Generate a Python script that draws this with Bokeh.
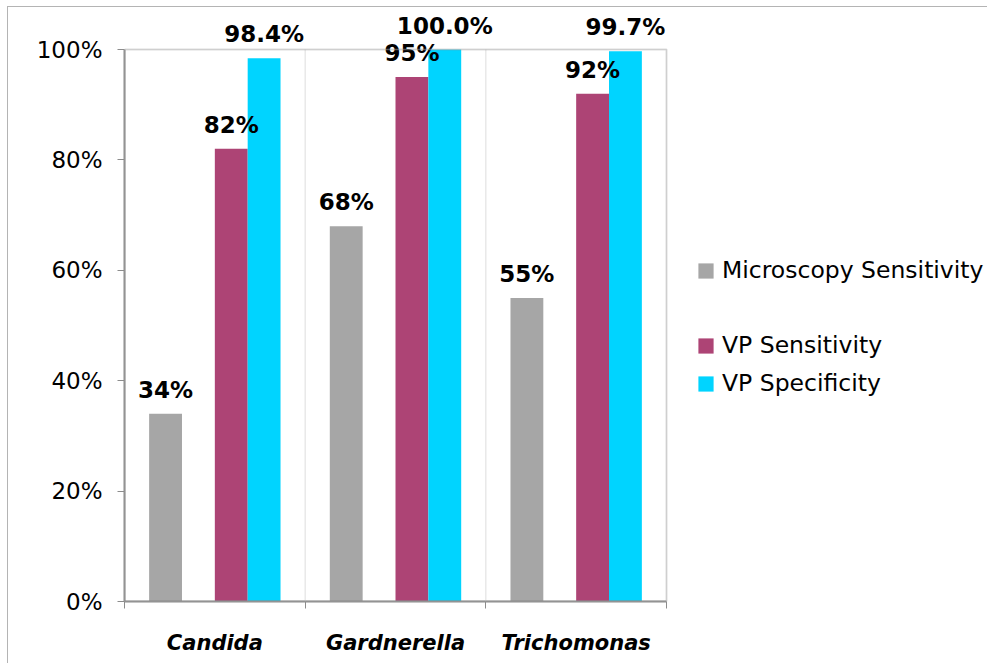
from bokeh.plotting import figure
from bokeh.models import (ColumnDataSource, FixedTicker, NumeralTickFormatter,
                          Legend, LegendItem, Range1d, BoxAnnotation)
from bokeh.transform import dodge
from bokeh.core.properties import value
from bokeh.embed import file_html
from bokeh.resources import INLINE

# ---- data ----
categories = ["Candida", "Gardnerella", "Trichomonas"]
microscopy_sensitivity = [0.34, 0.68, 0.55]
vp_sensitivity = [0.82, 0.95, 0.92]
vp_specificity = [0.984, 1.000, 0.997]
series_names = ["Microscopy Sensitivity", " ", "VP Sensitivity", "VP Specificity"]
y_ticks = [0, 0.2, 0.4, 0.6, 0.8, 1.0]

colors = ["#a6a6a6", "#ffffff", "#ad4475", "#00d4ff"]
frame_color = "#8c8c8c"
sep_color = "#c4c4c4"

n = len(categories)
xs = [i + 0.5 for i in range(n)]
src = ColumnDataSource(dict(
    x=xs,
    micro=microscopy_sensitivity,
    sens=vp_sensitivity,
    spec=vp_specificity,
    micro_lbl=[f"{v:.0%}" for v in microscopy_sensitivity],
    sens_lbl=[f"{v:.0%}" for v in vp_sensitivity],
    spec_lbl=[f"{v:.1%}" for v in vp_specificity],
))
empty_src = ColumnDataSource(dict(x=[], top=[]))

# layout: plot box 542 x 552 px; the frame is extended to the right and top
# so that the legend and the value labels above 100% are not clipped
W, H = 987, 663
left, top, bottom = 124, 10, 62
box_w, box_h = 542, 552
frame_w = W - left
frame_h = H - top - bottom
x_end = n * frame_w / box_w
y_end = frame_h / box_h

p = figure(width=W, height=H, x_range=Range1d(0, x_end), y_range=Range1d(0, y_end),
           output_backend="svg", toolbar_location=None,
           min_border_left=left, min_border_right=0, min_border_top=top,
           min_border_bottom=bottom)
p.border_fill_alpha = 0
p.background_fill_color = "white"
p.outline_line_color = None
p.styles = {"box-shadow": "inset 7px 6px 0 0 #ffffff, inset 8px 7px 0 0 #b4b4b4"}

# category separators and plot box
for i in range(n):
    p.add_layout(BoxAnnotation(left=i, right=i + 1, bottom=0, top=1,
                               fill_alpha=0, line_color=sep_color, line_width=1))
p.add_layout(BoxAnnotation(left=0, right=n, bottom=0, top=1, fill_alpha=0,
                           line_color=frame_color, line_width=2))

bw = 1 / 5.5
offsets = [-1.5 * bw, -0.5 * bw, 0.5 * bw, 1.5 * bw]

r_micro = p.vbar(x=dodge("x", offsets[0], range=p.x_range), top="micro", width=bw,
                 source=src, fill_color=colors[0], line_color=None)
r_blank = p.vbar(x="x", top="top", width=bw, source=empty_src,
                 fill_alpha=0, line_alpha=0)
r_sens = p.vbar(x=dodge("x", offsets[2], range=p.x_range), top="sens", width=bw,
                source=src, fill_color=colors[2], line_color=None)
r_spec = p.vbar(x=dodge("x", offsets[3], range=p.x_range), top="spec", width=bw,
                source=src, fill_color=colors[3], line_color=None)

for off, col, lbl in [(offsets[0], "micro", "micro_lbl"),
                      (offsets[2], "sens", "sens_lbl"),
                      (offsets[3], "spec", "spec_lbl")]:
    p.text(x=dodge("x", off, range=p.x_range), y=col, text=lbl, source=src,
           text_align="center", text_baseline="alphabetic", y_offset=-24,
           text_font=value("DejaVu Sans"), text_font_style="bold",
           text_font_size="23px", text_color="black")

# x axis
p.xaxis.bounds = (0, n)
p.xaxis.ticker = FixedTicker(ticks=xs, minor_ticks=list(range(n + 1)))
p.xaxis.major_label_overrides = {x: c for x, c in zip(xs, categories)}
p.xaxis.major_tick_line_color = None
p.xaxis.minor_tick_line_color = frame_color
p.xaxis.minor_tick_out = 7
p.xaxis.minor_tick_in = 0
p.xaxis.major_label_text_font = "DejaVu Sans"
p.xaxis.major_label_text_font_style = "bold italic"
p.xaxis.major_label_text_font_size = "21px"
p.xaxis.major_label_text_color = "black"
p.xaxis.major_label_standoff = 22

# y axis
p.yaxis.bounds = (0, 1)
p.yaxis.ticker = FixedTicker(ticks=y_ticks)
p.yaxis.formatter = NumeralTickFormatter(format="0%")
p.yaxis.minor_tick_line_color = None
p.yaxis.major_tick_out = 7
p.yaxis.major_tick_in = 0
p.yaxis.major_tick_line_color = frame_color
p.yaxis.major_label_text_font = "DejaVu Sans"
p.yaxis.major_label_text_font_size = "23px"
p.yaxis.major_label_text_color = "black"
p.yaxis.major_label_standoff = 15

p.axis.axis_line_color = frame_color
p.axis.axis_line_width = 2
p.xgrid.visible = False
p.ygrid.visible = False

legend = Legend(items=[
    LegendItem(label=series_names[0], renderers=[r_micro]),
    LegendItem(label=series_names[1], renderers=[r_blank]),
    LegendItem(label=series_names[2], renderers=[r_sens]),
    LegendItem(label=series_names[3], renderers=[r_spec]),
], location=(572, 204))
legend.border_line_color = None
legend.background_fill_alpha = 0
legend.padding = 0
legend.margin = 0
legend.glyph_width = 19
legend.glyph_height = 19
legend.label_height = 27
legend.label_standoff = 7
legend.label_text_font = "DejaVu Sans"
legend.label_text_font_size = "23.5px"
legend.label_text_color = "black"
legend.spacing = 10
p.add_layout(legend)

open("out.html", "w").write(file_html(p, INLINE))
